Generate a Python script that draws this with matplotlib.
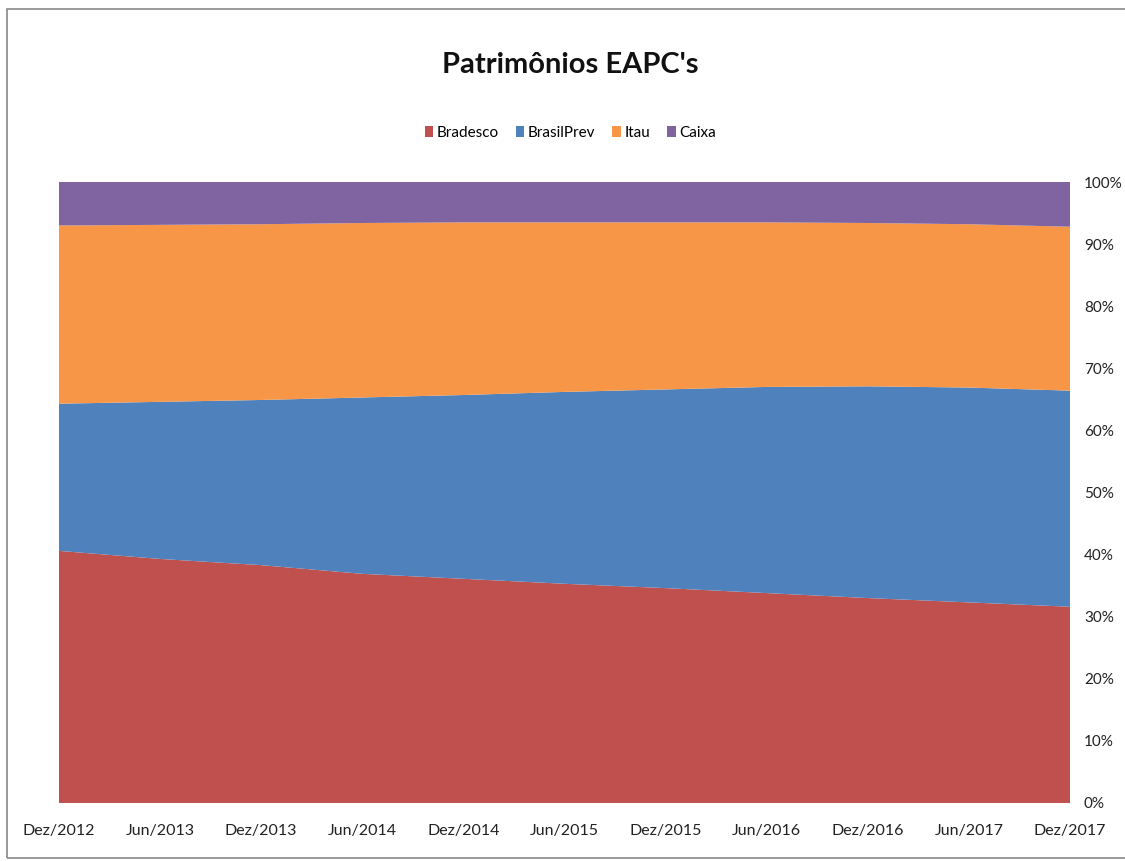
import numpy as np
import matplotlib
matplotlib.use('Agg')
from matplotlib import pyplot as plt
from matplotlib.patches import Rectangle
from matplotlib.ticker import FuncFormatter

periods = ['Dez/2012', 'Jun/2013', 'Dez/2013', 'Jun/2014', 'Dez/2014', 'Jun/2015',
           'Dez/2015', 'Jun/2016', 'Dez/2016', 'Jun/2017', 'Dez/2017']

bradesco = [40.6, 39.3, 38.3, 36.9, 36.1, 35.3, 34.6, 33.8, 33.0, 32.3, 31.6]
brasilprev = [23.7, 25.3, 26.6, 28.4, 29.6, 30.9, 32.0, 33.2, 34.1, 34.6, 34.8]
itau = [28.7, 28.5, 28.3, 28.1, 27.8, 27.3, 26.9, 26.5, 26.3, 26.3, 26.4]
caixa = [7.0, 6.9, 6.8, 6.6, 6.5, 6.5, 6.5, 6.5, 6.6, 6.8, 7.2]

names = ['Bradesco', 'BrasilPrev', 'Itau', 'Caixa']
colors = ['#C0504D', '#4F81BD', '#F79646', '#8064A2']


def main():
    plt.rcParams['font.family'] = ['Lato', 'DejaVu Sans']

    fig = plt.figure(figsize=(11.25, 8.61), dpi=100)
    ax = fig.add_axes([0.0524, 0.0674, 0.8987, 0.7212])

    x = np.arange(len(periods))
    data = np.array([bradesco, brasilprev, itau, caixa])
    data = data / data.sum(axis=0) * 100

    ax.stackplot(x, data, colors=colors, labels=names, lw=0)
    ax.set_xlim(0, len(periods) - 1)
    ax.set_ylim(0, 100)

    ax.set_xticks(x)
    ax.set_xticklabels(periods, fontsize=11.5, color='#222222')
    ax.yaxis.tick_right()
    ax.set_yticks(np.arange(0, 101, 10))
    ax.yaxis.set_major_formatter(FuncFormatter(lambda v, p: f'{v:.0f}%'))
    ax.tick_params(axis='y', length=0, pad=10, labelsize=11, labelcolor='#222222')
    ax.tick_params(axis='x', length=0, pad=15)
    for s in ax.spines.values():
        s.set_visible(False)

    fig.text(0.507, 0.925, "Patrimônios EAPC's", ha='center', va='center',
             fontsize=21, fontweight='bold', color='#111111')
    fig.legend(loc='center', bbox_to_anchor=(0.507, 0.846), ncol=4, frameon=False,
               fontsize=11, handlelength=0.55, handleheight=0.8, handletextpad=0.25,
               columnspacing=1.1)

    fig.patches.append(Rectangle((7 / 1125, 3 / 861), 1.2, 849 / 861, transform=fig.transFigure,
                                 fill=False, edgecolor='#888888', lw=1.2))

    fig.savefig('out.png', dpi=100)


if __name__ == '__main__':
    main()
